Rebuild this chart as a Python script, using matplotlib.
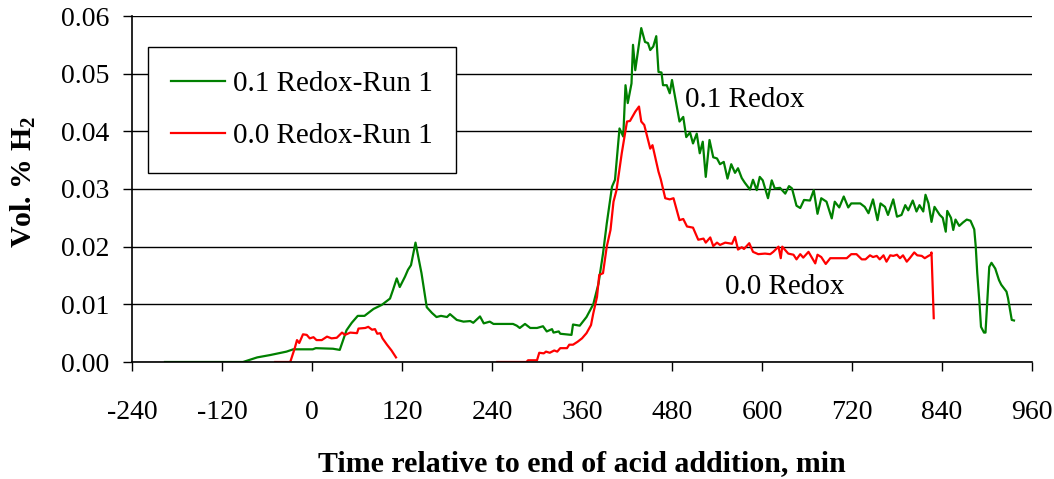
import numpy as np
import matplotlib
matplotlib.use("Agg")
import matplotlib.pyplot as plt

# ---------------- data ----------------
green_t = [-196, -92, -73, -56, -34, -25, 1, 5, 28, 37, 46, 53, 61, 70, 82, 93, 104, 108, 113, 117,
           124, 128, 132, 138, 146, 153, 160, 166, 172, 180, 184, 193, 202, 211, 215, 224, 229, 237,
           242, 251, 268, 273, 277, 284, 291, 300, 308, 313, 320, 322, 329, 331, 346, 348, 357, 366,
           375, 382, 388, 393, 400, 404, 410, 415, 418, 421, 426, 428, 431, 439, 444, 448, 451, 455,
           459, 462, 466, 468, 473, 477, 480, 484, 490, 495, 499, 504, 508, 513, 517, 521, 525, 530,
           535, 540, 544, 549, 554, 559, 564, 568, 573, 577, 584, 588, 593, 597, 601, 608, 613, 617,
           624, 631, 636, 640, 646, 651, 656, 664, 669, 674, 679, 686, 693, 697, 703, 709, 715, 719,
           731, 737, 742, 748, 754, 758, 764, 768, 775, 780, 786, 791, 795, 801, 806, 810, 815, 818,
           822, 826, 830, 837, 841, 845, 847, 852, 855, 858, 863, 868, 873, 878, 883, 885, 887, 890,
           892, 896, 898, 900, 903, 906, 911, 916, 919, 926, 928, 933, 936]
green_v = [0, 0, 0.0008, 0.0012, 0.0018, 0.0022, 0.0022, 0.0024, 0.0023, 0.0021, 0.0055, 0.0068,
           0.0080, 0.0080, 0.0092, 0.0099, 0.0110, 0.0125, 0.0145, 0.0130, 0.0148, 0.0160, 0.0168,
           0.0207, 0.0154, 0.0095, 0.0085, 0.0078, 0.0080, 0.0078, 0.0083, 0.0073, 0.0070, 0.0071,
           0.0068, 0.0079, 0.0067, 0.0070, 0.0066, 0.0066, 0.0066, 0.0063, 0.0059, 0.0066, 0.0059,
           0.0059, 0.0062, 0.0053, 0.0057, 0.0051, 0.0053, 0.0049, 0.0047, 0.0065, 0.0063, 0.0078,
           0.0100, 0.0136, 0.0188, 0.0240, 0.0304, 0.0316, 0.0405, 0.0391, 0.0480, 0.0449, 0.0483,
           0.0550, 0.0506, 0.0579, 0.0555, 0.0553, 0.0541, 0.0547, 0.0565, 0.0503, 0.0502, 0.0480,
           0.0480, 0.0466, 0.0489, 0.0460, 0.0417, 0.0425, 0.0390, 0.0398, 0.0379, 0.0396, 0.0362,
           0.0382, 0.0321, 0.0385, 0.0355, 0.0353, 0.0343, 0.0347, 0.0318, 0.0343, 0.0328, 0.0336,
           0.0319, 0.0311, 0.0299, 0.0316, 0.0298, 0.0321, 0.0315, 0.0284, 0.0315, 0.0301, 0.0302,
           0.0292, 0.0305, 0.0301, 0.0271, 0.0267, 0.0281, 0.0280, 0.0298, 0.0257, 0.0284, 0.0278,
           0.0249, 0.0278, 0.0268, 0.0287, 0.0268, 0.0275, 0.0275, 0.0269, 0.0258, 0.0282, 0.0246,
           0.0275, 0.0269, 0.0255, 0.0282, 0.0252, 0.0255, 0.0272, 0.0263, 0.0280, 0.0261, 0.0272,
           0.0261, 0.0290, 0.0275, 0.0243, 0.0269, 0.0255, 0.0250, 0.0226, 0.0262, 0.0250, 0.0229,
           0.0247, 0.0236, 0.0242, 0.0247, 0.0245, 0.0230, 0.0200, 0.0154, 0.0102, 0.0061, 0.0051,
           0.0051, 0.0096, 0.0165, 0.0172, 0.0162, 0.0142, 0.0134, 0.0122, 0.0111, 0.0073, 0.0072]

red_t = [-49, -29, -23, -20, -17, -12, -7, -3, 2, 6, 13, 20, 26, 33, 40, 44, 51, 60, 62, 71, 75,
         80, 84, 87, 91, 94, 100, 106, 112, 180,
         247, 286, 288, 300, 303, 309, 312, 317, 323, 327, 331, 340, 343, 348, 354, 360, 366, 372,
         375, 380, 383, 388, 393, 398, 402, 406, 413, 420, 424, 431, 436, 439, 443, 451, 454, 462,
         465, 471, 477, 482, 490, 495, 500, 508, 515, 522, 525, 531, 535, 540, 544, 551, 560, 564,
         568, 573, 576, 583, 588, 595, 604, 611, 615, 622, 625, 627, 635, 642, 646, 651, 655, 662,
         666, 671, 674, 679, 685, 691, 699, 713, 719, 726, 733, 738, 744, 748, 753, 757, 762, 766,
         771, 775, 780, 784, 788, 793, 797, 803, 807, 813, 817, 822, 825, 826, 829]
red_v = [0, 0, 0.0024, 0.0038, 0.0033, 0.0048, 0.0047, 0.0041, 0.0043, 0.0038, 0.0038, 0.0044,
         0.0041, 0.0042, 0.0051, 0.0047, 0.0051, 0.0050, 0.0058, 0.0059, 0.0061, 0.0056, 0.0057,
         0.0049, 0.0050, 0.0041, 0.0030, 0.0020, 0.0008, np.nan,
         0, 0, 0.0003, 0.0003, 0.0016, 0.0015, 0.0018, 0.0016, 0.0020, 0.0018, 0.0024, 0.0024,
         0.0030, 0.0030, 0.0035, 0.0041, 0.0050, 0.0064, 0.0084, 0.0113, 0.0151, 0.0154, 0.0200,
         0.0229, 0.0278, 0.0298, 0.0362, 0.0417, 0.0418, 0.0434, 0.0443, 0.0417, 0.0411, 0.0370,
         0.0376, 0.0330, 0.0317, 0.0284, 0.0282, 0.0284, 0.0246, 0.0248, 0.0235, 0.0233, 0.0212,
         0.0214, 0.0207, 0.0216, 0.0201, 0.0207, 0.0203, 0.0207, 0.0205, 0.0217, 0.0195, 0.0199,
         0.0196, 0.0206, 0.0191, 0.0187, 0.0188, 0.0187, 0.0191, 0.0200, 0.0180, 0.0200, 0.0188,
         0.0186, 0.0178, 0.0187, 0.0181, 0.0191, 0.0182, 0.0171, 0.0186, 0.0182, 0.0170, 0.0180,
         0.0180, 0.0180, 0.0187, 0.0187, 0.0178, 0.0178, 0.0185, 0.0182, 0.0184, 0.0178, 0.0185,
         0.0174, 0.0185, 0.0184, 0.0186, 0.0180, 0.0185, 0.0174, 0.0180, 0.0190, 0.0185, 0.0184,
         0.0180, 0.0184, 0.0186, 0.0190, 0.0076]

series_labels = ["0.1 Redox-Run 1", "0.0 Redox-Run 1"]
annot_labels = ["0.1 Redox", "0.0 Redox"]
annot_pos = [(497, 0.0454), (551, 0.0130)]
x_ticks = [-240, -120, 0, 120, 240, 360, 480, 600, 720, 840, 960]
y_ticks = [0.00, 0.01, 0.02, 0.03, 0.04, 0.05, 0.06]
x_label = "Time relative to end of acid addition, min"
y_label = r"Vol. % H$_2$"

# ---------------- figure ----------------
plt.rcParams['font.family'] = ['Liberation Serif', 'DejaVu Serif']
plt.rcParams['mathtext.default'] = 'regular'
plt.rcParams['axes.unicode_minus'] = False

fig = plt.figure(figsize=(10.54, 4.79), dpi=100)
ax = fig.add_axes([132/1054, 1 - 362/479, 900/1054, 346/479])

ax.plot(green_t, green_v, color='#008000', lw=1.6, label=series_labels[0])
ax.plot(red_t, red_v, color='#ff0000', lw=1.6, label=series_labels[1])

ax.set_xlim(-240, 960)
ax.set_ylim(0, 0.06)
ax.set_xticks(x_ticks)
ax.set_yticks(y_ticks)
ax.set_yticklabels([f"{v:.2f}" for v in y_ticks])
ax.grid(axis='y', color='black', lw=1.0)
ax.set_axisbelow(True)
for s in ['top', 'right']:
    ax.spines[s].set_visible(False)
for s in ['left', 'bottom']:
    ax.spines[s].set_linewidth(1.2)
    ax.spines[s].set_color('black')

ax.tick_params(axis='x', direction='out', length=6.5, width=1, pad=21, labelsize=20)
ax.tick_params(axis='y', direction='out', length=6.5, width=1, pad=10, labelsize=20)

ax.set_xlabel(x_label, fontsize=21.5, fontweight='bold')
ax.xaxis.set_label_coords(0.5, -0.255)
ax.set_ylabel(y_label, fontsize=21.5, fontweight='bold')
ax.yaxis.set_label_coords(-0.104, 0.52)

for txt, (xx, yy) in zip(annot_labels, annot_pos):
    ax.text(xx, yy, txt, fontsize=21, ha='left', va='center')

leg = ax.legend(loc='upper left', bbox_to_anchor=(16/900, (362-47)/346),
                borderaxespad=0, fontsize=21, frameon=True, fancybox=False,
                handlelength=1.85, handletextpad=0.25, labelspacing=0.9,
                borderpad=0.8)
leg.get_frame().set_edgecolor('black')
leg.get_frame().set_linewidth(1.0)
leg.get_frame().set_alpha(1)

fig.savefig("out.png", dpi=100)
